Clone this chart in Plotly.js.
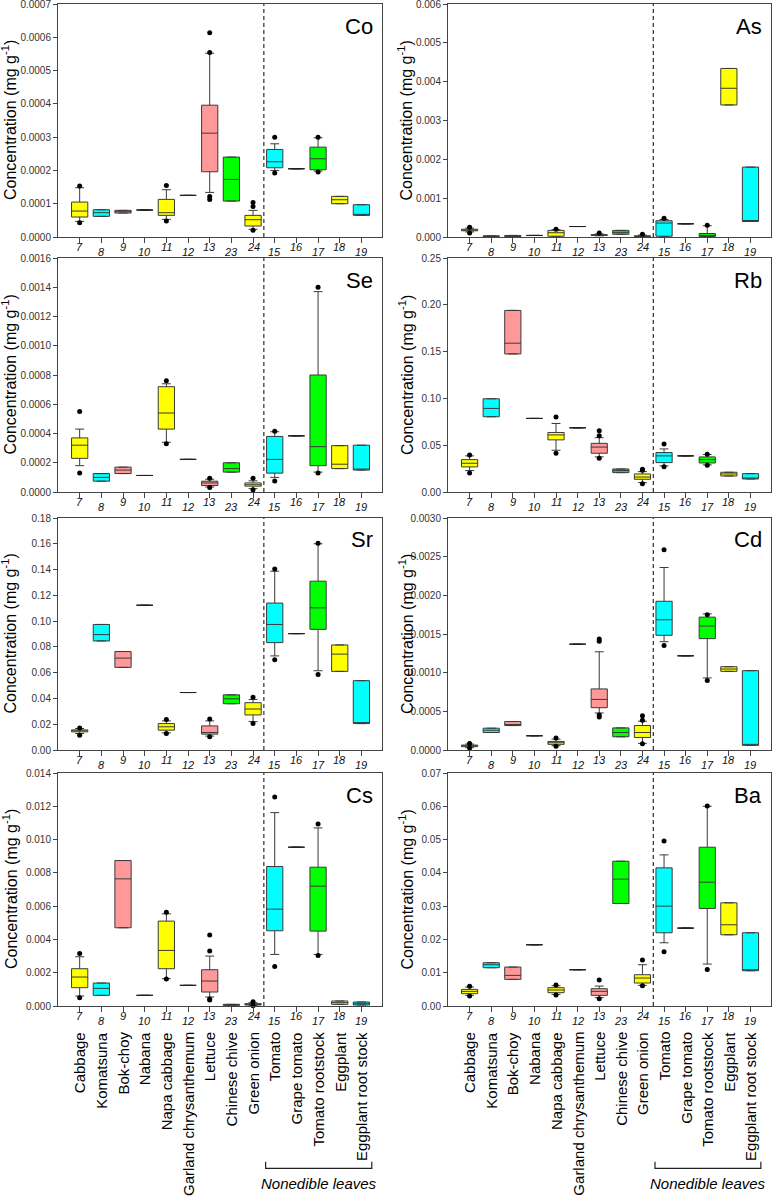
<!DOCTYPE html>
<html><head><meta charset="utf-8">
<script src="https://cdn.plot.ly/plotly-3.0.1.min.js"></script>
<style>html,body{margin:0;padding:0;background:#fff}#chart{width:773px;height:1199px}</style>
</head><body><div id="chart"></div>
<script>
// ---------- categories ----------
const categories = ['Cabbage','Komatsuna','Bok-choy','Nabana','Napa cabbage','Garland chrysanthemum','Lettuce','Chinese chive','Green onion','Tomato','Grape tomato','Tomato rootstock','Eggplant','Eggplant root stock'];
const sampleNumbers = ['7','8','9','10','11','12','13','23','24','15','16','17','18','19'];
const boxColors = ['#FFFF00','#00FFFF','#FF9999',null,'#FFFF00',null,'#FF9999','#00FF00','#FFFF00','#00FFFF',null,'#00FF00','#FFFF00','#00FFFF'];

// ---------- Co ----------
const co_q1  = [0.000060,0.000062,0.000072,0.000081,0.000065,0.000125,0.000196,0.000108,0.000033,0.000208,0.000205,0.000202,0.000100,0.000065];
const co_med = [0.000078,0.000073,0.000076,0.000081,0.000073,0.000125,0.000312,0.000173,0.000052,0.000226,0.000205,0.000235,0.000112,0.000065];
const co_q3  = [0.000105,0.000082,0.000080,0.000081,0.000113,0.000125,0.000396,0.000240,0.000065,0.000263,0.000205,0.000270,0.000122,0.000097];
const co_lo  = [0.000047,0.000062,0.000072,0.000081,0.000053,0.000125,0.000134,0.000108,0.000023,0.000200,0.000205,0.000198,0.000100,0.000065];
const co_hi  = [0.000148,0.000082,0.000080,0.000081,0.000142,0.000125,0.000552,0.000240,0.000080,0.000280,0.000205,0.000298,0.000122,0.000097];
const co_outX = [0,0,4,4,6,6,6,6,8,8,8,9,9,11,11];
const co_outY = [0.000153,0.000043,0.000155,0.000048,0.000614,0.000554,0.000122,0.000113,0.000104,0.000092,0.000020,0.000300,0.000192,0.000300,0.000195];

// ---------- As ----------
const as_q1  = [0.00016,0.00001,0.00001,0.00004,0.00002,0.00027,0.00004,0.00007,0.00001,0.00002,0.00034,0.00001,0.00340,0.00040];
const as_med = [0.00018,0.00002,0.00002,0.00004,0.00011,0.00027,0.00005,0.00012,0.00002,0.00036,0.00034,0.00004,0.00383,0.00040];
const as_q3  = [0.00020,0.00003,0.00004,0.00004,0.00017,0.00027,0.00006,0.00017,0.00003,0.00042,0.00034,0.00009,0.00434,0.00180];
const as_lo  = [0.00013,0.00001,0.00001,0.00004,0.000005,0.00027,0.00003,0.00007,0.000005,0.000005,0.00034,0.00001,0.00340,0.00040];
const as_hi  = [0.00023,0.00003,0.00004,0.00004,0.00019,0.00027,0.00008,0.00017,0.00005,0.00045,0.00034,0.00029,0.00434,0.00180];
const as_outX = [0,0,4,6,8,9,11];
const as_outY = [0.00025,0.00010,0.00020,0.00010,0.00007,0.00048,0.00030];

// ---------- Se ----------
const se_q1  = [0.00023,0.000074,0.000126,0.000113,0.00043,0.000223,0.000044,0.000136,0.000040,0.000129,0.000384,0.00018,0.00016,0.00015];
const se_med = [0.00032,0.000100,0.000150,0.000113,0.00054,0.000223,0.000062,0.000160,0.000050,0.000223,0.000384,0.00031,0.00019,0.00015];
const se_q3  = [0.00037,0.000126,0.000170,0.000113,0.00072,0.000223,0.000074,0.000200,0.000062,0.000380,0.000384,0.00080,0.000317,0.00032];
const se_lo  = [0.00018,0.000074,0.000126,0.000113,0.00034,0.000223,0.000034,0.000136,0.000023,0.000100,0.000384,0.000136,0.00016,0.00015];
const se_hi  = [0.00043,0.000126,0.000170,0.000113,0.00074,0.000223,0.000087,0.000200,0.000076,0.000412,0.000384,0.00137,0.000317,0.00032];
const se_outX = [0,0,4,4,6,6,8,8,9,9,11,11];
const se_outY = [0.00055,0.00013,0.00076,0.00033,0.000094,0.000030,0.000094,0.000016,0.000416,0.000076,0.00140,0.00013];

// ---------- Rb ----------
const rb_q1  = [0.0268,0.0804,0.1475,0.0786,0.0557,0.0686,0.0414,0.0207,0.0136,0.0314,0.0386,0.0310,0.0171,0.0139];
const rb_med = [0.0307,0.0893,0.1590,0.0786,0.0610,0.0686,0.0480,0.0229,0.0160,0.0386,0.0386,0.0346,0.0193,0.0139];
const rb_q3  = [0.0346,0.0996,0.1940,0.0786,0.0636,0.0686,0.0520,0.0246,0.0193,0.0421,0.0386,0.0375,0.0211,0.0196];
const rb_lo  = [0.0229,0.0804,0.1475,0.0786,0.0446,0.0686,0.0375,0.0207,0.0100,0.0279,0.0386,0.0290,0.0171,0.0139];
const rb_hi  = [0.0386,0.0996,0.1940,0.0786,0.0732,0.0686,0.0580,0.0246,0.0218,0.0460,0.0386,0.0400,0.0211,0.0196];
const rb_outX = [0,0,4,4,6,6,6,8,8,8,9,9,11,11];
const rb_outY = [0.0396,0.0204,0.0800,0.0414,0.0654,0.0600,0.0360,0.0089,0.0232,0.0243,0.0514,0.0270,0.0404,0.0286];

// ---------- Sr ----------
const sr_q1  = [0.0141,0.0846,0.0641,0.1123,0.0154,0.0446,0.0123,0.0359,0.0272,0.0833,0.0903,0.0936,0.0610,0.0205];
const sr_med = [0.0149,0.0895,0.0713,0.1123,0.0180,0.0446,0.0136,0.0397,0.0318,0.0974,0.0903,0.1103,0.0744,0.0205];
const sr_q3  = [0.0156,0.0974,0.0764,0.1123,0.0205,0.0446,0.0187,0.0428,0.0367,0.1140,0.0903,0.1310,0.0815,0.0538];
const sr_lo  = [0.0128,0.0846,0.0641,0.1123,0.0133,0.0446,0.0108,0.0359,0.0220,0.0730,0.0903,0.0615,0.0610,0.0205];
const sr_hi  = [0.0167,0.0974,0.0764,0.1123,0.0226,0.0446,0.0226,0.0428,0.0392,0.1387,0.0903,0.1600,0.0815,0.0538];
const sr_outX = [0,0,4,4,6,6,8,8,9,9,11,11];
const sr_outY = [0.0170,0.0115,0.0236,0.0128,0.0241,0.0103,0.0410,0.0205,0.1404,0.0700,0.1605,0.0585];

// ---------- Cd ----------
const cd_q1  = [0.000043,0.000226,0.000316,0.000184,0.000073,0.001368,0.000547,0.000171,0.000162,0.001483,0.001218,0.001440,0.001017,0.000060];
const cd_med = [0.000055,0.000255,0.000330,0.000184,0.000094,0.001368,0.000654,0.000226,0.000226,0.001684,0.001218,0.001603,0.001047,0.000060];
const cd_q3  = [0.000064,0.000282,0.000368,0.000184,0.000111,0.001368,0.000790,0.000286,0.000316,0.001923,0.001218,0.001718,0.001077,0.001026];
const cd_lo  = [0.000030,0.000226,0.000316,0.000184,0.000056,0.001368,0.000479,0.000171,0.0000855,0.001400,0.001218,0.000932,0.001017,0.000060];
const cd_hi  = [0.000077,0.000282,0.000368,0.000184,0.000141,0.001368,0.001270,0.000286,0.000372,0.002360,0.001218,0.001760,0.001077,0.001026];
const cd_outX = [0,0,4,4,6,6,6,6,8,8,8,9,9,11,11];
const cd_outY = [0.000085,0.000025,0.000154,0.000050,0.001436,0.001406,0.000453,0.000427,0.000444,0.000385,0.000080,0.002590,0.001350,0.000900,0.001750];

// ---------- Cs ----------
const cs_q1  = [0.00110,0.00064,0.00470,0.00064,0.00224,0.00124,0.00084,0.00004,0.00006,0.00452,0.00954,0.00450,0.00010,0.00006];
const cs_med = [0.00174,0.00106,0.00764,0.00064,0.00334,0.00124,0.00150,0.00007,0.00010,0.00582,0.00954,0.00720,0.00020,0.00014];
const cs_q3  = [0.00224,0.00138,0.00874,0.00064,0.00510,0.00124,0.00218,0.00010,0.00014,0.00838,0.00954,0.00834,0.00030,0.00024];
const cs_lo  = [0.00060,0.00064,0.00470,0.00064,0.00164,0.00124,0.00054,0.00004,0.00002,0.00310,0.00954,0.00310,0.00010,0.00006];
const cs_hi  = [0.00296,0.00138,0.00874,0.00064,0.00554,0.00124,0.00300,0.00010,0.00020,0.01162,0.00954,0.01070,0.00030,0.00024];
const cs_outX = [0,0,4,4,6,6,6,6,8,8,9,9,11,11];
const cs_outY = [0.00316,0.00050,0.00564,0.00162,0.00426,0.00330,0.00042,0.00036,0.00026,0.00001,0.01256,0.00238,0.01094,0.00304];

// ---------- Ba ----------
const ba_q1  = [0.0037,0.0115,0.0080,0.0184,0.0040,0.0109,0.0032,0.0308,0.0069,0.0220,0.0234,0.0293,0.0214,0.0106];
const ba_med = [0.0044,0.0124,0.0092,0.0184,0.0048,0.0109,0.0044,0.0381,0.0084,0.0300,0.0234,0.0372,0.0244,0.0106];
const ba_q3  = [0.0050,0.0130,0.0117,0.0184,0.0055,0.0109,0.0052,0.0435,0.0094,0.0415,0.0234,0.0477,0.0310,0.0220];
const ba_lo  = [0.0032,0.0115,0.0080,0.0184,0.0035,0.0109,0.0025,0.0308,0.0062,0.0190,0.0234,0.0126,0.0214,0.0106];
const ba_hi  = [0.0057,0.0130,0.0117,0.0184,0.0061,0.0109,0.0060,0.0435,0.0124,0.0454,0.0234,0.0600,0.0310,0.0220];
const ba_outX = [0,0,4,4,6,6,8,8,9,9,11,11];
const ba_outY = [0.0059,0.0030,0.0063,0.0033,0.0078,0.0022,0.0138,0.0061,0.0496,0.0163,0.0601,0.0110];

// ---------- axis tick settings ----------
const elementNames = ['Co','As','Se','Rb','Sr','Cd','Cs','Ba'];
const yMax   = [0.0007,0.006,0.0016,0.25,0.18,0.003,0.014,0.07];
const yStep  = [0.0001,0.001,0.0002,0.05,0.02,0.0005,0.002,0.01];
const yFmt   = ['.4f','.3f','.4f','.2f','.2f','.4f','.3f','.2f'];

const panelData = [
  [co_q1,co_med,co_q3,co_lo,co_hi,co_outX,co_outY],
  [as_q1,as_med,as_q3,as_lo,as_hi,as_outX,as_outY],
  [se_q1,se_med,se_q3,se_lo,se_hi,se_outX,se_outY],
  [rb_q1,rb_med,rb_q3,rb_lo,rb_hi,rb_outX,rb_outY],
  [sr_q1,sr_med,sr_q3,sr_lo,sr_hi,sr_outX,sr_outY],
  [cd_q1,cd_med,cd_q3,cd_lo,cd_hi,cd_outX,cd_outY],
  [cs_q1,cs_med,cs_q3,cs_lo,cs_hi,cs_outX,cs_outY],
  [ba_q1,ba_med,ba_q3,ba_lo,ba_hi,ba_outX,ba_outY]
];

// ---------- layout geometry (pixels) ----------
const W = 773, H = 1199;
const colX = [[58,382],[448,771]];
const rowY = [[4,237],[258,492],[518,750],[773,1006]];
const FONT = 'Arial, "Liberation Sans", Helvetica, sans-serif';
const LINE = '#444';

const traces = [];
const layout = {
  width: W, height: H,
  margin: {l:0,r:0,t:0,b:0},
  paper_bgcolor: '#fff', plot_bgcolor: '#fff',
  showlegend: false,
  boxmode: 'overlay',
  font: {family: FONT, color: '#111'},
  annotations: [], shapes: []
};
const idx = categories.map((c,i)=>i);

for (let p = 0; p < 8; p++) {
  const col = p % 2, row = Math.floor(p / 2);
  const s = p === 0 ? '' : String(p + 1);
  const xa = 'x' + s, ya = 'y' + s;
  const [q1, med, q3, lo, hi, oX, oY] = panelData[p];
  for (let k = 0; k < categories.length; k++) {
    const fc = boxColors[k];
    traces.push({
      type: 'box', x: [k], q1: [q1[k]], median: [med[k]], q3: [q3[k]],
      lowerfence: [lo[k]], upperfence: [hi[k]],
      width: 0.75, whiskerwidth: 0.55, boxpoints: false,
      fillcolor: fc ? fc : 'rgba(0,0,0,0)',
      line: {color: fc ? '#3a3a3a' : '#222', width: 1},
      xaxis: xa, yaxis: ya, hoverinfo: 'skip', showlegend: false, name: categories[k]
    });
  }
  traces.push({
    type: 'scatter', mode: 'markers', x: oX, y: oY,
    marker: {color: '#000', size: 5},
    xaxis: xa, yaxis: ya, cliponaxis: false, hoverinfo: 'skip', showlegend: false
  });

  layout['xaxis' + s] = {
    domain: [colX[col][0]/W, colX[col][1]/W], anchor: ya,
    range: [-1, 13.95], tickvals: idx, showticklabels: false,
    ticks: 'outside', ticklen: 5, tickwidth: 1, tickcolor: LINE,
    showline: true, mirror: true, linecolor: LINE, linewidth: 1,
    showgrid: false, zeroline: false, fixedrange: true
  };
  const nT = Math.round(yMax[p] / yStep[p]);
  const tv = [], tt = [];
  const dec = parseInt(yFmt[p].slice(1));
  for (let t = 0; t <= nT; t++) { tv.push(yMax[p] * t / nT); tt.push((yMax[p] * t / nT).toFixed(dec)); }
  layout['yaxis' + s] = {
    domain: [1 - rowY[row][1]/H, 1 - rowY[row][0]/H], anchor: xa,
    range: [0, yMax[p]], tickvals: tv, ticktext: tt, ticklabeloverflow: 'allow',
    ticks: 'outside', ticklen: 4, tickwidth: 1, tickcolor: LINE,
    tickfont: {family: FONT, size: 10, color: '#333'},
    showline: true, mirror: true, linecolor: LINE, linewidth: 1,
    showgrid: false, zeroline: false, fixedrange: true
  };

  // dashed separator between edible and nonedible groups
  layout.shapes.push({type:'line', xref: xa, yref: ya + ' domain', x0: 8.5, x1: 8.5, y0: 0, y1: 1,
    line: {color: '#000', width: 1, dash: '4px,3px'}});

  // element label
  layout.annotations.push({xref:'paper', yref:'paper', x: (colX[col][1]-7)/W, y: 1 - (rowY[row][0]+22)/H,
    xanchor:'right', yanchor:'middle', text: elementNames[p], showarrow:false,
    font:{family: FONT, size: 22, color:'#000'}});

  // y-axis title
  layout.annotations.push({xref:'paper', yref:'paper', x: (col === 0 ? 9.5 : 406)/W,
    y: 1 - (rowY[row][0]+rowY[row][1])/2/H, xanchor:'center', yanchor:'middle', textangle: -90,
    text: 'Concentration (mg g<sup>-1</sup>)', showarrow:false, font:{family: FONT, size: 16, color:'#000'}});

  // staggered sample numbers
  for (let k = 0; k < categories.length; k++) {
    layout.annotations.push({xref: xa, yref:'paper', x: k, y: 1 - rowY[row][1]/H,
      xanchor:'center', yanchor:'middle', yshift: (k % 2 === 0) ? -10 : -15,
      text: '<i>' + sampleNumbers[k] + '</i>', showarrow:false,
      font:{family: FONT, size: 11, color:'#111'}});
  }

  if (row === 3) {
    for (let k = 0; k < categories.length; k++) {
      layout.annotations.push({xref: xa, yref:'paper', x: k, y: 1 - rowY[row][1]/H,
        xanchor:'center', yanchor:'top', yshift: -24, textangle: -90,
        text: categories[k], showarrow:false, font:{family: FONT, size: 15, color:'#000'}});
    }
    // bracket for nonedible leaves
    const yb = 1 - 1168.3/H, yt = 1 - 1161.7/H;
    layout.shapes.push({type:'path', xref: xa, yref:'paper',
      path: `M 8.58 ${yt} L 8.58 ${yb} L 13.48 ${yb} L 13.48 ${yt}`,
      line:{color:'#222', width:1.2}});
    layout.annotations.push({xref: xa, yref:'paper', x: 11.03, y: 1 - 1183.5/H,
      xanchor:'center', yanchor:'middle', text:'<i>Nonedible leaves</i>', showarrow:false,
      font:{family: FONT, size: 15, color:'#000'}});
  }
}

Plotly.newPlot('chart', traces, layout, {staticPlot: true, displayModeBar: false});
</script>
</body></html>
